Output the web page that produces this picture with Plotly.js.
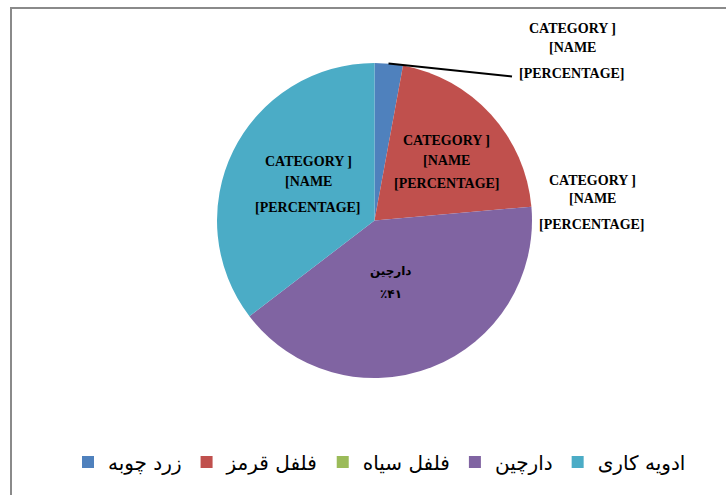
<!DOCTYPE html>
<html>
<head>
<meta charset="utf-8">
<script src="https://cdn.plot.ly/plotly-3.0.1.min.js"></script>
<style>html,body{margin:0;padding:0;background:#fff;}#chart{width:726px;height:495px;}</style>
</head>
<body>
<div id="chart"></div>
<script>
// ---- data ----
const categories = ['زرد چوبه', 'فلفل قرمز', 'فلفل سیاه', 'دارچین', 'ادویه کاری'];
const shares = [2.9, 20.7, 0, 41, 35.4];
const placeholderLabel = ['CATEGORY ]', '[NAME', '[PERCENTAGE]'];
const purpleLabel = ['دارچین', '٪۴۱'];
const sliceLabels = [placeholderLabel, placeholderLabel, placeholderLabel, purpleLabel, placeholderLabel];

// ---- styles / layout ----
const colors = ['#4F81BD', '#C0504D', '#9BBB59', '#8064A2', '#4BACC6'];
const W = 726, H = 495;
const cx = 374.5, cy = 220.5, R = 157.5;
// label line centres in pixels (label placement, not data)
const labelPos = [
  {x: 572, ys: [28, 48, 73]},
  {x: 447, ys: [140, 160, 184]},
  {x: 592, ys: [180, 199, 224]},
  {x: 391, ys: [271, 294]},
  {x: 308, ys: [161, 182, 207]}
];
const px = x => x / W;
const py = y => 1 - y / H;

const annotations = [];
sliceLabels.forEach((lines, i) => {
  lines.forEach((t, j) => {
    const persian = /[\u0600-\u06FF]/.test(t);
    annotations.push({
      text: t, xref: 'paper', yref: 'paper',
      x: px(labelPos[i].x), y: py(labelPos[i].ys[j]),
      xanchor: 'center', yanchor: 'middle', showarrow: false,
      font: persian ? {family: 'DejaVu Sans', size: 12, color: '#000', weight: 'bold'}
                    : {family: 'Liberation Serif', size: 14, color: '#000', weight: 'bold'}
    });
  });
});

const trace = {
  type: 'pie',
  labels: categories,
  values: shares,
  sort: false,
  direction: 'clockwise',
  rotation: 0,
  textinfo: 'none',
  hoverinfo: 'label+percent',
  marker: {colors: colors, line: {width: 0}},
  domain: {x: [px(cx - R), px(cx + R)], y: [py(cy + R), py(cy - R)]}
};

const layout = {
  width: W, height: H,
  margin: {l: 0, r: 0, t: 0, b: 0},
  paper_bgcolor: '#ffffff',
  showlegend: true,
  legend: {
    orientation: 'h', x: px(68), y: py(462), xanchor: 'left', yanchor: 'middle',
    traceorder: 'normal',
    font: {family: 'DejaVu Sans', size: 20, color: '#000'}
  },
  annotations: annotations,
  shapes: [
    {type: 'line', xref: 'paper', yref: 'paper', x0: px(11), y0: py(500), x1: px(11), y1: py(8), line: {color: '#8a8a8a', width: 2}},
    {type: 'line', xref: 'paper', yref: 'paper', x0: px(10), y0: py(8), x1: px(730), y1: py(8), line: {color: '#8a8a8a', width: 2}},
    {type: 'line', xref: 'paper', yref: 'paper',
     x0: px(388.5), y0: py(63.5), x1: px(512), y1: py(76.5),
     line: {color: '#000', width: 2}}
  ]
};

Plotly.newPlot('chart', [trace], layout, {displayModeBar: false, staticPlot: true});
</script>
</body>
</html>
